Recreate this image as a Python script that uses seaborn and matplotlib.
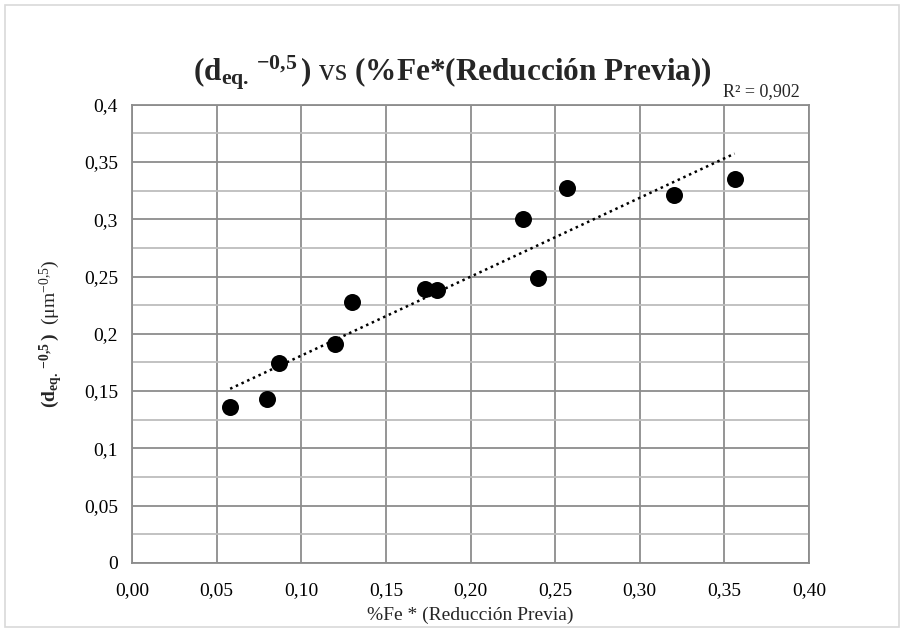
import numpy as np
import pandas as pd
import matplotlib
matplotlib.use("Agg")
import matplotlib.pyplot as plt
import seaborn as sns
from matplotlib.patches import Rectangle

# Data
fe_reduccion = [0.058, 0.080, 0.087, 0.120, 0.130, 0.173, 0.180, 0.231, 0.240, 0.257, 0.320, 0.356]
d_eq = [0.1365, 0.1435, 0.1745, 0.191, 0.228, 0.239, 0.238, 0.300, 0.249, 0.327, 0.321, 0.335]
x_ticks = [0.00, 0.05, 0.10, 0.15, 0.20, 0.25, 0.30, 0.35, 0.40]
x_tick_labels = ["0,00", "0,05", "0,10", "0,15", "0,20", "0,25", "0,30", "0,35", "0,40"]
y_ticks = [0, 0.05, 0.1, 0.15, 0.2, 0.25, 0.3, 0.35, 0.4]
y_tick_labels = ["0", "0,05", "0,1", "0,15", "0,2", "0,25", "0,3", "0,35", "0,4"]
r2_text = "R² = 0,902"

df = pd.DataFrame({"x": fe_reduccion, "y": d_eq})

sns.set_style("white")
plt.rcParams["font.family"] = ["Liberation Serif", "DejaVu Serif"]
plt.rcParams["mathtext.fontset"] = "custom"
plt.rcParams["mathtext.rm"] = "Liberation Serif"
plt.rcParams["mathtext.it"] = "Liberation Serif:italic"
plt.rcParams["mathtext.bf"] = "Liberation Serif:bold"

fig = plt.figure(figsize=(9.04, 6.31), dpi=100)
ax = fig.add_axes([0.146, 0.108, 0.749, 0.726])

# outer chart border
fig.patches.append(Rectangle((0.006, 0.006), 0.988, 0.986, transform=fig.transFigure,
                             fill=False, edgecolor="#d9d9d9", linewidth=1.2))

sns.regplot(data=df, x="x", y="y", scatter=False, ci=None, ax=ax,
            line_kws=dict(color="black", linestyle=(0, (1, 1.5)), linewidth=1.8, zorder=3))
sns.scatterplot(data=df, x="x", y="y", ax=ax, color="black", s=150,
                edgecolor="black", linewidth=0, zorder=4)

ax.set_xlim(0, 0.40)
ax.set_ylim(0, 0.40)
ax.set_xticks(x_ticks)
ax.set_xticklabels(x_tick_labels)
ax.set_yticks(y_ticks)
ax.set_yticklabels(y_tick_labels)
ax.set_yticks(np.arange(0.025, 0.4, 0.05), minor=True)
ax.grid(True, which="major", color="#8c8c8c", linewidth=1.3)
ax.grid(True, which="minor", axis="y", color="#bdbdbd", linewidth=1.3)
ax.set_axisbelow(True)
for s in ax.spines.values():
    s.set_color("#8c8c8c")
    s.set_linewidth(1.3)
ax.tick_params(axis="both", which="both", length=0, labelsize=14, colors="black")
ax.tick_params(axis="x", pad=14)
ax.tick_params(axis="y", pad=10)

ax.set_xlabel("%Fe * (Reducción Previa)", fontsize=14, labelpad=5)
ax.set_ylabel(r"$\mathbf{(d_{eq.}\,{}^{{-}0{,}5}\,)}$  ($\mathrm{\mu m}^{{-}0{,}5}$)", fontsize=14, labelpad=14)

fig.text(0.5, 0.873, r"$\mathbf{(d_{eq.}\,{}^{{-}0{,}5}\,)}$ $\mathrm{vs}$ (%Fe*(Reducción Previa))",
         ha="center", va="baseline", fontsize=22.5, fontweight="bold")
fig.text(0.885, 0.848, r2_text, ha="right", va="baseline", fontsize=13)

fig.savefig("out.png", dpi=100)
